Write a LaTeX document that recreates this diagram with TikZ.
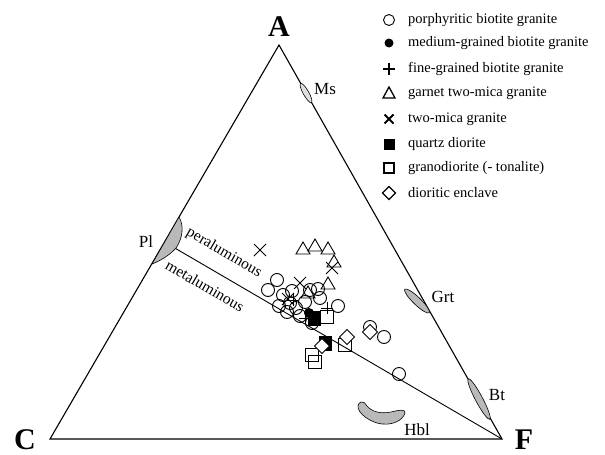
\documentclass[tikz,border=0pt]{standalone}
\usepackage{fontspec}
\setmainfont{Liberation Serif}
\usetikzlibrary{calc}
\newcommand\mkcirc[2]{\draw[mk] (#1,#2) circle (6.5);}
\newcommand\mkdot[2]{\fill (#1,#2) circle (5);}
\newcommand\mkplus[2]{\draw[mk,shift={(#1,#2)}] (-6,0) -- (6,0) (0,-6) -- (0,6);}
\newcommand\mktri[2]{\draw[mk,shift={(#1,#2)}] (-7,5) -- (7,5) -- (0,-7) -- cycle;}
\newcommand\mkx[2]{\draw[mk,shift={(#1,#2)}] (-6,-6) -- (6,6) (-6,6) -- (6,-6);}
\newcommand\mksq[2]{\draw[mk,shift={(#1,#2)}] (-6.5,-6.5) rectangle (6.5,6.5);}
\newcommand\mkfsq[2]{\fill[shift={(#1,#2)}] (-6.5,-7.5) rectangle (6.5,7.5);}
\newcommand\mkdia[2]{\draw[mk,fill=white,shift={(#1,#2)}] (0,-7.5) -- (7.5,0) -- (0,7.5) -- (-7.5,0) -- cycle;}
\begin{document}
\begin{tikzpicture}[x=1pt,y=-1pt,
  edge/.style={line width=1.1pt},
  mk/.style={line width=0.9pt},
  blob/.style={draw=black, line width=0.6pt, fill=gray!55},
  mineral/.style={font=\fontsize{17}{17}\selectfont, inner sep=0pt},
  vertex/.style={font=\fontsize{30}{30}\selectfont\bfseries, inner sep=0pt},
  legtext/.style={font=\fontsize{14.5}{14.5}\selectfont, anchor=west, inner sep=0pt},
  fieldlab/.style={font=\fontsize{15.5}{15.5}\selectfont, inner sep=0pt, rotate=-30.3}]
\useasboundingbox (0,0) rectangle (605,455);
% triangle
\coordinate (A) at (279,45);
\coordinate (C) at (50,439);
\coordinate (F) at (502,439);
\coordinate (P) at ($(A)!0.5!(C)$);
\draw[edge, line join=miter] (A) -- (F) -- (C) -- cycle;
\draw[line width=0.9pt] (P) -- (F);
% vertex labels
\node[vertex] (lA) at (279,27) {A};
\node[vertex] (lC) at (25,440) {C};
\node[vertex] (lF) at (524,440) {F};
% mineral fields
\draw[blob] (179,217) .. controls (184,225) and (183,238) .. (176,248)
  .. controls (170,255) and (160,261) .. (152,264) -- cycle;
\draw[blob, fill=gray!25] (306,93) ellipse [x radius=11, y radius=2.8, rotate=-60.5];
\draw[blob] (417,301) ellipse [x radius=17, y radius=3.8, rotate=-44];
\draw[blob] (479,399) ellipse [x radius=23, y radius=3.6, rotate=-62];
\draw[blob] (361,402) .. controls (354,405) and (359,417) .. (377,423)
  .. controls (392,427) and (403,420) .. (405,413)
  .. controls (406,409) and (399,410) .. (391,412)
  .. controls (381,414) and (372,412) .. (367,406)
  .. controls (365,403) and (363,401) .. (361,402) -- cycle;
\node[mineral] (lPl) at (146,242) {Pl};
\node[mineral] (lMs) at (325,89) {Ms};
\node[mineral] (lGrt) at (443,297) {Grt};
\node[mineral] (lBt) at (497,395) {Bt};
\node[mineral] (lHbl) at (417,430) {Hbl};
% field labels
\node[fieldlab] (per) at (224,253) {peraluminous};
\node[fieldlab] (met) at (205,286) {metaluminous};
% data: garnet two-mica granite
\mktri{303}{249}\mktri{315}{246}\mktri{328}{249}\mktri{334}{262}\mktri{328}{284}\mktri{308}{293}
% two-mica granite
\mkx{260}{250}\mkx{332}{268}\mkx{300}{283}\mkx{288}{299}
% porphyritic biotite granite
\mkcirc{277}{280}\mkcirc{268}{290}\mkcirc{283}{295}\mkcirc{292}{291}
\mkcirc{318}{289}\mkcirc{320}{298}\mkcirc{338}{306}\mkcirc{290}{303}
\mkcirc{287}{312}\mkcirc{300}{316}\mkcirc{312}{323}\mkcirc{305}{302}
\mkcirc{296}{308}\mkcirc{279}{306}\mkcirc{310}{290}
\mkcirc{370}{327}\mkcirc{384}{337}\mkcirc{399}{374}
% fine-grained biotite granite
\mkplus{293}{300}\mkplus{305}{318}\mkplus{327}{308}
% medium-grained biotite granite
\mkdot{309}{313}
% quartz diorite
\mkfsq{314}{318}\mkfsq{325}{343}
% granodiorite
\mksq{327}{317}\mksq{312}{355}\mksq{315}{362}\mksq{345}{345}
% dioritic enclave
\mkdia{322}{346}\mkdia{347}{337}\mkdia{370}{332}
% legend
\draw[mk] (389,20) circle (5.5);
\fill (389,43) circle (4.5);
\draw[line width=2pt] (383,69) -- (395,69) (389,63) -- (389,75);
\draw[line width=1.3pt] (383,98) -- (395,98) -- (389,87) -- cycle;
\draw[line width=2pt] (384.5,114.5) -- (393.5,123.5) (384.5,123.5) -- (393.5,114.5);
\fill (383.5,138.5) rectangle (394.5,149.5);
\draw[line width=1.3pt] (384,163) rectangle (394,173);
\draw[line width=1.3pt] (389,186.5) -- (395.5,193) -- (389,199.5) -- (382.5,193) -- cycle;
\node[legtext] (t1) at (408,20) {porphyritic biotite granite};
\node[legtext] (t2) at (408,43) {medium-grained biotite granite};
\node[legtext] (t3) at (408,69) {fine-grained biotite granite};
\node[legtext] (t4) at (408,93) {garnet two-mica granite};
\node[legtext] (t5) at (408,119) {two-mica granite};
\node[legtext] (t6) at (408,144) {quartz diorite};
\node[legtext] (t7) at (408,168) {granodiorite (- tonalite)};
\node[legtext] (t8) at (408,193) {dioritic enclave};
\end{tikzpicture}
\end{document}
